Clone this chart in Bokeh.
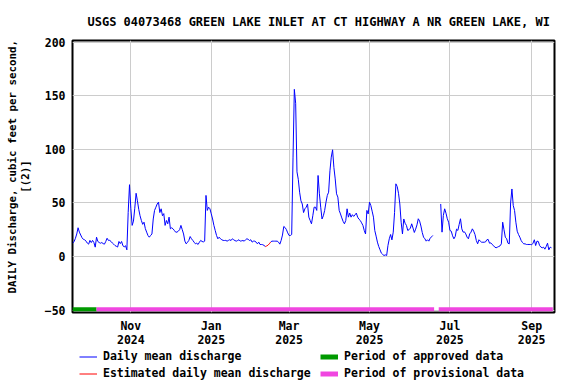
import numpy as np
import pandas as pd
from bokeh.plotting import figure
from bokeh.layouts import column
from bokeh.models import Range1d, FixedTicker, Legend, LegendItem, ColumnDataSource
from bokeh.embed import file_html
from bokeh.resources import INLINE

# ---------------- data ----------------
TITLE = "USGS 04073468 GREEN LAKE INLET AT CT HIGHWAY A NR GREEN LAKE, WI"
Y_LABEL = "\u00a0\u00a0\u00a0DAILY Discharge, cubic feet per second,\n[(2)]"

first_day = "2024-09-18"

q_sep2024 = [12.4, 14, 17, 21, 26.8, 22.7, 20, 17.5, 16, 15.6, 14.3, 12.5, 11.5]
q_oct2024 = [15, 13, 15, 13, 8.7, 18, 14, 13, 12.4, 13, 12, 11.5, 14, 17, 15, 15,
             14, 12.5, 11.5, 10.2, 9.5, 8.8, 14, 12, 14, 10, 9, 10, 6.2, 41, 67]
q_nov2024 = [45, 29, 33, 45, 59, 52, 44, 38, 33.6, 30, 32, 26, 22.7, 19.6, 18,
             19.6, 21, 35, 43, 46, 49, 50.7, 41, 44.5, 38, 40, 29, 33.6, 30.5, 36.7]
q_dec2024 = [25.8, 26.8, 25.8, 24.3, 22.7, 22.7, 23.6, 25, 29, 25, 21, 14.3, 11.8,
             13.3, 15, 18.6, 16.5, 15, 13.3, 11.8, 12.4, 11.2, 13.3, 15, 14, 13.6,
             14.3, 57, 43, 46, 44.5]
q_jan2025 = [39.8, 35, 29, 24.3, 19.6, 16.5, 18, 16.5, 15.6, 15, 14.9, 15, 14.3, 15,
             15.6, 14.9, 16.5, 15.6, 14.8, 14.3, 14.9, 15.6, 14.3, 14.6, 14.9, 14.3,
             15.6, 16.5, 16, 14.9, 15.6]
q_feb2025 = [13.4, 14.3, 14.3, 13.4, 11.8, 13.4, 11.2, 11.2, 11, 10.3, 9.3, 9.8,
             10.5, 11.8, 13.4, 14.3, 14.3, 14.3, 14.3, 14.3, 13.4, 11.5, 15, 20, 28,
             27, 25, 22]
q_mar2025 = [19.6, 19.6, 20.5, 92, 156, 143, 79, 72, 60, 52, 49, 41, 44.5, 46, 49,
             36.7, 33.6, 30.5, 38, 46, 46, 43, 75.6, 58.5, 46, 35, 38, 43, 50.7, 57, 60]
q_apr2025 = [80, 92.7, 99.6, 83, 72.4, 58.5, 55.4, 43, 39.7, 36, 32.7, 30.5, 33.6,
             44.5, 36.7, 40.5, 36.7, 39, 37.4, 38.8, 40.5, 36.7, 34.8, 33.6, 31.4,
             29, 24.3, 21, 43, 39.7]
q_may2025 = [50.7, 47.6, 42.3, 36.7, 24.3, 19, 13.4, 9.3, 6.2, 3.1, 1.9, 0.9, 1.5,
             0.9, 10.3, 16.5, 20.5, 15.5, 22.7, 41, 67.8, 65.3, 59, 49, 32, 21, 35,
             31, 29, 24.3, 25]
q_jun2025 = [26.5, 30.5, 26.5, 22.4, 25.5, 29.5, 35.2, 33, 28.4, 22.4, 18, 16.5,
             14.3, 15.6, 14.3, 17, 18.3, 19.6, None, None, None, None, None, 49,
             22.7, 38.3, 44.5, 40.4, 35.2, 32]
q_jul2025 = [24.3, 23.6, 19.3, 16.5, 18.6, 25.5, 24.3, 29.9, 35.2, 25.8, 22.7, 23,
             21.1, 18, 16.5, 21.1, 22.7, 25.8, 23.6, 20.5, 14.9, 11.8, 15.6, 14.3,
             13.3, 13.3, 13.3, 13.6, 15.6, 15.9, 12.4]
q_aug2025 = [12.7, 11.2, 10.2, 8.7, 8.1, 8.7, 9.3, 9.9, 11.8, 32, 24.9, 18, 16.5,
             12.4, 11.8, 50, 63, 47.6, 42.9, 32, 23.6, 20.5, 18, 14.9, 13, 11.8,
             11.8, 11.2, 11.2, 11.2, 11.2]
q_sep2025 = [10.9, 12.4, 15.6, 10.2, 14.3, 14, 10.2, 8.7, 8.1, 8.7, 6.8, 9.3, 12.4,
             6.2, 8.7, 8.1]

estimated_days = ["2025-02-12", "2025-02-13", "2025-02-14"]

period_status = ["approved", "provisional", "provisional"]
period_start = ["2024-09-17 18:00", "2024-10-06 00:00", "2025-06-22 12:00"]
period_end = ["2024-10-06 00:00", "2025-06-19 00:00", "2025-09-17 00:00"]

y_ticks = [-50, 0, 50, 100, 150, 200]
x_tick_dates = ["2024-11-01", "2025-01-01", "2025-03-01", "2025-05-01",
                "2025-07-01", "2025-09-01"]
x_tick_labels = ["Nov\n2024", "Jan\n2025", "Mar\n2025", "May\n2025",
                 "Jul\n2025", "Sep\n2025"]

legend_labels = ["Daily mean discharge", "Estimated daily mean discharge",
                 "Period of approved data", "Period of provisional data"]

# ---------------- styles ----------------
FONT = "DejaVu Sans Mono"
C_DAILY = "#0000ff"
C_EST = "#ff0000"
C_APPR = "#009a00"
C_PROV = "#f046e0"

# ---------------- build ----------------
q_all = (q_sep2024 + q_oct2024 + q_nov2024 + q_dec2024 + q_jan2025 + q_feb2025 +
         q_mar2025 + q_apr2025 + q_may2025 + q_jun2025 + q_jul2025 + q_aug2025 +
         q_sep2025)
vals = np.array([np.nan if v is None else v for v in q_all], dtype=float)
dates = pd.date_range(first_day, periods=len(vals), freq="D")

est = np.asarray(dates.isin(pd.to_datetime(estimated_days)))
red_mask = est.copy()
red_mask[:-1] |= est[1:]
red_mask[1:] |= est[:-1]

blue_vals = vals.copy()
blue_vals[est] = np.nan
red_vals = np.where(red_mask, vals, np.nan)

src = ColumnDataSource(dict(date=dates, blue=blue_vals, red=red_vals))

p = figure(width=576, height=350, x_axis_type="datetime",
           x_range=Range1d(pd.Timestamp("2024-09-17 18:30"), pd.Timestamp("2025-09-18 07:00")),
           y_range=Range1d(-52.3, 201.6),
           output_backend="svg", toolbar_location=None,
           min_border_left=72, min_border_right=22,
           min_border_top=40, min_border_bottom=38)

p.background_fill_color = "white"
p.border_fill_color = "white"
p.outline_line_color = "black"
p.outline_line_width = 2
p.outline_line_alpha = 1.0

# title
p.title.text = TITLE
p.title.align = "left"
p.title.offset = 15
p.title.text_font = FONT
p.title.text_font_style = "bold"
p.title.text_font_size = "12px"
p.title.text_color = "black"
p.title.standoff = 24

# ticks
ms_ticks = [pd.Timestamp(d).value // 10**6 for d in x_tick_dates]
p.xaxis.ticker = FixedTicker(ticks=ms_ticks)
p.xaxis.major_label_overrides = {t: lab for t, lab in zip(ms_ticks, x_tick_labels)}
p.yaxis.ticker = FixedTicker(ticks=y_ticks)

for ax in (p.xaxis[0], p.yaxis[0]):
    ax.major_tick_out = 0
    ax.major_tick_in = 0
    ax.minor_tick_out = 0
    ax.minor_tick_in = 0
    ax.axis_line_color = None
    ax.major_label_text_font = FONT
    ax.major_label_text_font_style = "bold"
    ax.major_label_text_font_size = "11.5px"
    ax.major_label_text_color = "black"
p.xaxis.major_label_standoff = 6
p.xaxis.major_label_text_line_height = 1.05
p.yaxis.major_label_standoff = 7

p.yaxis.axis_label = Y_LABEL
p.yaxis.axis_label_text_font = FONT
p.yaxis.axis_label_text_font_style = "bold"
p.yaxis.axis_label_text_font_size = "10.8px"
p.yaxis.axis_label_text_color = "black"
p.yaxis.axis_label_standoff = 10
p.yaxis.axis_label_text_line_height = 1.0

p.xgrid.grid_line_color = "#cccccc"
p.ygrid.grid_line_color = "#cccccc"
p.xgrid.grid_line_width = 1
p.ygrid.grid_line_width = 1

# data lines
p.line("date", "blue", source=src, line_color=C_DAILY, line_width=1)
p.line("date", "red", source=src, line_color=C_EST, line_width=1)

# approval period bars
bar_y = -49.3
ps = pd.to_datetime(period_start)
pe = pd.to_datetime(period_end)
status = np.array(period_status)
appr = status == "approved"
prov = status == "provisional"
src_appr = ColumnDataSource(dict(x0=ps[appr], x1=pe[appr], y=[bar_y] * int(appr.sum())))
src_prov = ColumnDataSource(dict(x0=ps[prov], x1=pe[prov], y=[bar_y] * int(prov.sum())))
p.segment(x0="x0", y0="y", x1="x1", y1="y", source=src_appr,
          line_color=C_APPR, line_width=4, line_cap="butt")
p.segment(x0="x0", y0="y", x1="x1", y1="y", source=src_prov,
          line_color=C_PROV, line_width=4, line_cap="butt")

# ---------------- legend strip ----------------
q = figure(width=576, height=34, x_range=Range1d(0, 1), y_range=Range1d(0, 1),
           x_axis_type=None, y_axis_type=None, output_backend="svg",
           toolbar_location=None, min_border=0, min_border_left=0,
           min_border_right=0, min_border_top=0, min_border_bottom=0)
q.outline_line_color = None
q.background_fill_color = "white"
q.border_fill_color = "white"
q.grid.visible = False

nan_src = dict(x=[np.nan], y=[np.nan])
lg_daily = q.line(x="x", y="y", source=ColumnDataSource(nan_src), line_color=C_DAILY, line_width=1)
lg_est = q.line(x="x", y="y", source=ColumnDataSource(nan_src), line_color=C_EST, line_width=1)
lg_appr = q.line(x="x", y="y", source=ColumnDataSource(nan_src), line_color=C_APPR,
                 line_width=5, line_cap="butt")
lg_prov = q.line(x="x", y="y", source=ColumnDataSource(nan_src), line_color=C_PROV,
                 line_width=5, line_cap="butt")


def make_legend(items, loc):
    lg = Legend(items=items, location=loc, orientation="vertical")
    lg.padding = 0
    lg.margin = 0
    lg.spacing = 3
    lg.label_height = 13
    lg.glyph_height = 13
    lg.glyph_width = 18
    lg.label_standoff = 6
    lg.label_text_font = FONT
    lg.label_text_font_style = "bold"
    lg.label_text_font_size = "11.5px"
    lg.label_text_color = "black"
    lg.border_line_alpha = 0
    lg.background_fill_alpha = 0
    return lg


leg1 = make_legend([LegendItem(label=legend_labels[0], renderers=[lg_daily]),
                    LegendItem(label=legend_labels[1], renderers=[lg_est])], (7, 4))
leg2 = make_legend([LegendItem(label=legend_labels[2], renderers=[lg_appr]),
                    LegendItem(label=legend_labels[3], renderers=[lg_prov])], (248, 4))
q.add_layout(leg1, "center")
q.add_layout(leg2, "center")

layout = column(p, q, spacing=0)
open("out.html", "w").write(file_html(layout, INLINE))
